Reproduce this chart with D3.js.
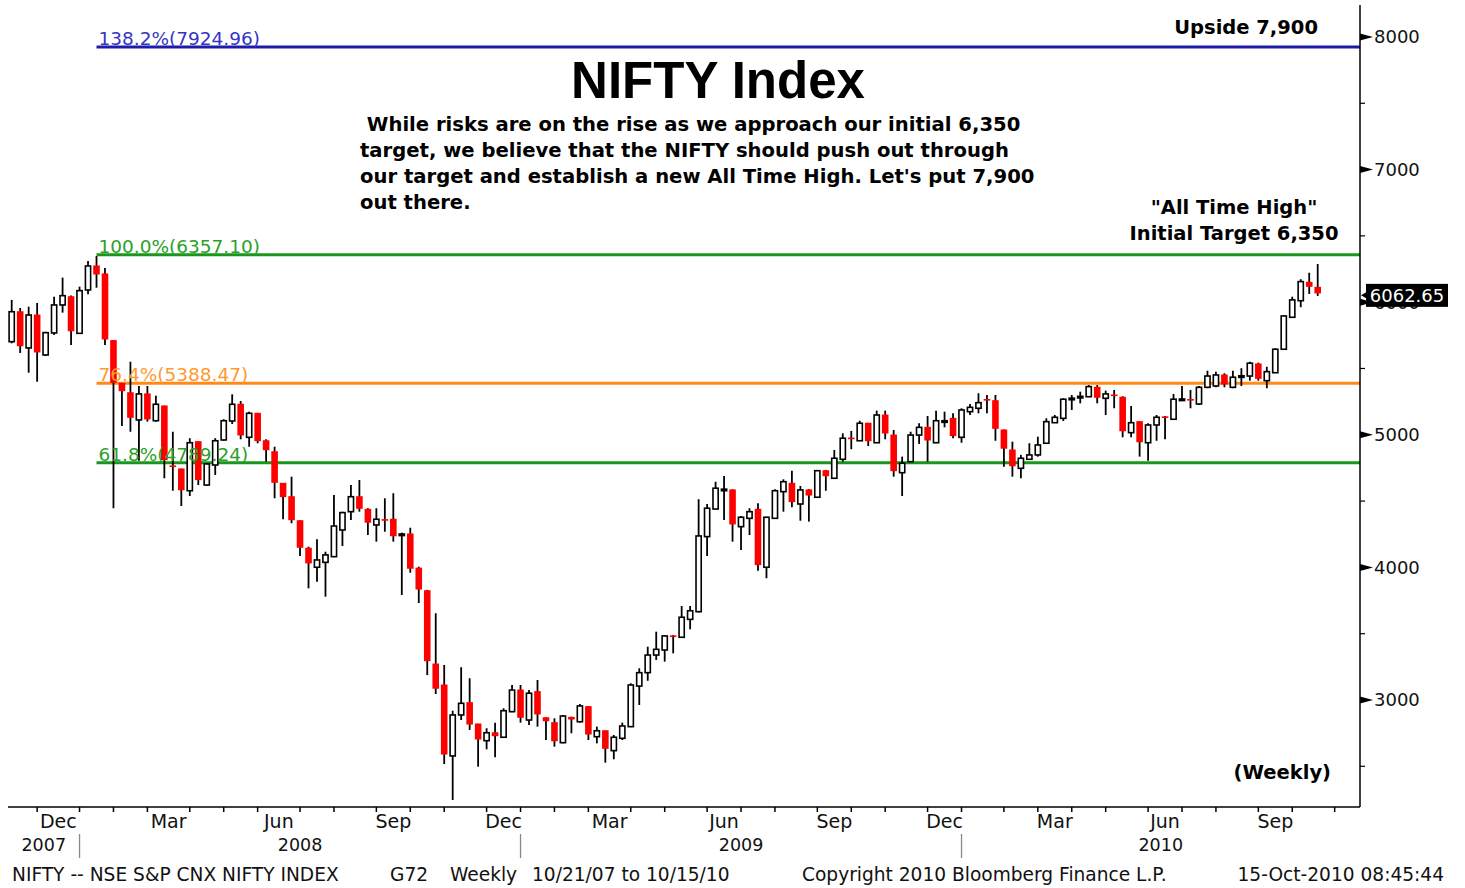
<!DOCTYPE html>
<html>
<head>
<meta charset="utf-8">
<script src="https://cdn.jsdelivr.net/npm/d3@7/dist/d3.min.js"></script>
<style>
  body { margin: 0; background: #fff; }
  svg { display: block; }
</style>
</head>
<body>
<div id="chart"></div>
<script>
// Weekly NIFTY bars, week of 29-Oct-2007 to week of 11-Oct-2010
const firstWeek = new Date(2007, 9, 29);
const lastWeek = new Date(2010, 9, 11);

const opens = [5702,5928,5655,5903,5602,5768,5979,6041,5765,6092,
  6273,6213,5710,5388,5317,5112,5308,5106,5217,4765,
  4742,4578,4948,4621,4772,4961,5104,5230,4981,5162,
  4955,4872,4634,4533,4352,4144,4001,4038,4081,4282,
  4420,4533,4438,4320,4360,4363,4245,4252,3994,3824,
  3271,3113,2578,2887,2980,2819,2693,2753,2719,2912,
  3075,2849,3063,2866,2829,2678,2869,2836,2950,2723,
  2768,2618,2711,2799,3105,3206,3339,3377,3483,3473,
  3608,3666,4232,4440,4580,4584,4307,4370,4438,4001,
  4370,4571,4634,4478,4584,4529,4729,4672,4815,4975,
  4955,5087,4940,5149,4998,4714,4797,4998,5056,4940,
  5100,5124,4981,5174,5200,5266,5257,5036,4885,4747,
  4815,4848,4936,5091,5124,5270,5283,5287,5358,5275,
  5300,5283,5016,5099,4940,5074,5135,5117,5265,5266,
  5232,5358,5368,5451,5358,5440,5443,5534,5408,5468,
  5645,5886,6011,6150,6112];

const highs = [6017,5956,5966,5994,5777,6041,6185,6050,6117,6311,
  6348,6258,5715,5390,5551,5368,5368,5295,5220,5023,
  4745,4974,4950,4785,4974,5117,5305,5255,5174,5165,
  4966,4910,4636,4684,4355,4156,4212,4118,4546,4420,
  4621,4659,4446,4446,4521,4559,4262,4299,4005,3830,
  3654,3264,2919,3247,3164,2820,2787,2829,2937,3113,
  3113,3075,3151,2870,2862,2887,2874,2970,2955,2799,
  2770,2736,2829,3126,3239,3402,3515,3490,3490,3709,
  3709,4514,4478,4646,4689,4589,4388,4446,4483,4382,
  4589,4664,4729,4614,4590,4735,4735,4885,5011,5029,
  5106,5090,5182,5182,5036,4835,5023,5087,5142,5182,
  5174,5162,5200,5232,5313,5300,5300,5040,4948,4848,
  4936,4986,5124,5149,5275,5300,5325,5375,5375,5333,
  5338,5290,5217,5102,5087,5149,5142,5308,5368,5338,
  5368,5483,5476,5464,5483,5502,5551,5544,5513,5652,
  5903,6041,6173,6222,6288];

const lows = [5690,5617,5468,5400,5594,5753,5921,5677,5760,6060,
  6109,5677,4446,5066,5023,4805,5099,5099,4672,4578,
  4463,4538,4621,4615,4697,4955,5081,4966,4910,4936,
  4797,4521,4363,4333,4086,3842,3892,3779,4076,4161,
  4357,4420,4244,4194,4269,4194,3792,3960,3731,3188,
  3045,2517,2246,2849,2774,2497,2628,2568,2715,2907,
  2829,2811,2799,2698,2648,2673,2749,2829,2698,2673,
  2527,2553,2698,2795,2962,3145,3302,3289,3352,3470,
  3533,3660,4086,4440,4357,4194,4131,4244,3975,3918,
  4370,4420,4453,4352,4345,4529,4578,4672,4797,4891,
  4955,4915,4940,4966,4684,4538,4797,4931,4797,4940,
  5056,4974,4940,5149,5162,5162,4955,4759,4684,4672,
  4810,4835,4936,5091,5104,5187,5237,5287,5237,5149,
  5200,4981,4981,4835,4805,4955,4966,5117,5262,5200,
  5225,5351,5358,5358,5351,5368,5408,5408,5351,5468,
  5645,5886,5962,6062,6047];

const closes = [5928,5664,5903,5617,5770,5979,6049,5777,6087,6273,
  6205,5715,5388,5325,5124,5308,5112,5230,4805,4755,
  4578,4940,4654,4780,4955,5106,5230,4991,5162,4948,
  4880,4634,4526,4352,4144,4026,4056,4094,4312,4413,
  4533,4438,4333,4363,4352,4231,4252,3986,3829,3289,
  3081,2585,2887,2975,2811,2698,2753,2723,2919,3075,
  2862,3051,2887,2836,2685,2879,2849,2955,2736,2768,
  2628,2719,2804,3113,3206,3339,3382,3483,3475,3624,
  3673,4237,4446,4597,4590,4320,4378,4420,4013,4378,
  4578,4646,4488,4584,4538,4729,4684,4823,4974,4965,
  5087,4948,5149,5006,4722,4785,4998,5056,4953,5106,
  5106,4986,5187,5207,5242,5258,5041,4891,4759,4823,
  4848,4923,5099,5132,5268,5276,5290,5363,5275,5308,
  5292,5023,5091,4940,5074,5132,5129,5268,5270,5259,
  5358,5443,5451,5375,5434,5445,5540,5418,5476,5645,
  5896,6017,6155,6112,6062.65];

// Fibonacci retracement levels
const fibLevels = [7924.96, 6357.10, 5388.47, 4789.24];
const fibNames = ['138.2%', '100.0%', '76.4%', '61.8%'];
const fibLineColors = ['#1c1caa', '#1a961a', '#ff8a14', '#1a961a'];
const fibTextColors = ['#3535c4', '#2aa02a', '#ff9a30', '#2aa02a'];

const yMajorTicks = [3000, 4000, 5000, 6000, 7000, 8000];
const yMinorTicks = [2500, 3500, 4500, 5500, 6500, 7500];
const lastPrice = 6062.65;
const monthLabels = { 2: 'Mar', 5: 'Jun', 8: 'Sep', 11: 'Dec' };

const noteLines = [
  ' While risks are on the rise as we approach our initial 6,350',
  'target, we believe that the NIFTY should push out through',
  'our target and establish a new All Time High. Let\'s put 7,900',
  'out there.'
];
const footerItems = [
  { text: 'NIFTY -- NSE S&P CNX NIFTY INDEX', x: 12, anchor: 'start' },
  { text: 'G72', x: 390, anchor: 'start' },
  { text: 'Weekly', x: 450, anchor: 'start' },
  { text: '10/21/07 to 10/15/10', x: 532, anchor: 'start' },
  { text: 'Copyright 2010 Bloomberg Finance L.P.', x: 802, anchor: 'start' },
  { text: '15-Oct-2010 08:45:44', x: 1444, anchor: 'end' }
];

const W = 1465, H = 888;
const plotLeft = 8, plotRight = 1360, plotTop = 5, plotBottom = 807;
const axisFont = '"DejaVu Sans", Verdana, sans-serif';
const titleFont = '"Liberation Sans", Arial, sans-serif';
const noteFont = '"DejaVu Sans", Verdana, sans-serif';

const weeks = d3.timeMonday.range(firstWeek, d3.timeDay.offset(lastWeek, 1));
const bars = weeks.map((d, i) => ({
  date: d, open: opens[i], high: highs[i], low: lows[i], close: closes[i]
}));

const x = d3.scaleTime().domain([firstWeek, lastWeek]).range([11.7, 1317.7]);
const y = d3.scaleLinear().domain([2193, 8241]).range([plotBottom, plotTop]);

const svg = d3.select('#chart').append('svg')
  .attr('width', W).attr('height', H)
  .style('background', '#fff');

// Fib lines
const fibStart = x(bars[10].date);
fibLevels.forEach((lvl, i) => {
  svg.append('line')
    .attr('x1', fibStart).attr('x2', plotRight)
    .attr('y1', y(lvl)).attr('y2', y(lvl))
    .attr('stroke', fibLineColors[i]).attr('stroke-width', 3);
});

// Candles
const candles = svg.append('g').selectAll('g').data(bars).enter().append('g');
candles.append('line')
  .attr('x1', d => x(d.date)).attr('x2', d => x(d.date))
  .attr('y1', d => y(d.high)).attr('y2', d => y(d.low))
  .attr('stroke', '#000').attr('stroke-width', 1.8);
candles.append('rect')
  .attr('x', d => x(d.date) - (d.close >= d.open ? 2.6 : 3.3))
  .attr('width', d => d.close >= d.open ? 5.2 : 6.6)
  .attr('y', d => y(Math.max(d.open, d.close)) - (d.close >= d.open ? 0 : 0.5))
  .attr('height', d => Math.max(1.6, Math.abs(y(d.open) - y(d.close))))
  .attr('fill', d => d.close >= d.open ? '#fff' : '#ff0000')
  .attr('stroke', d => d.close >= d.open ? '#000' : 'none')
  .attr('stroke-width', 1.6);

// Fib labels
fibLevels.forEach((lvl, i) => {
  svg.append('text')
    .attr('x', fibStart + 2).attr('y', y(lvl) - 2)
    .attr('font-family', axisFont).attr('font-size', 18.5)
    .attr('fill', fibTextColors[i])
    .text(`${fibNames[i]}(${lvl.toFixed(2)})`);
});

// Right axis
svg.append('line')
  .attr('x1', plotRight).attr('x2', plotRight)
  .attr('y1', plotTop).attr('y2', plotBottom)
  .attr('stroke', '#000').attr('stroke-width', 1.5);
yMinorTicks.forEach(v => {
  svg.append('line')
    .attr('x1', plotRight).attr('x2', plotRight + 5)
    .attr('y1', y(v)).attr('y2', y(v))
    .attr('stroke', '#000').attr('stroke-width', 1.2);
});
yMajorTicks.forEach(v => {
  const ty = y(v);
  svg.append('path')
    .attr('d', `M${plotRight},${ty - 3.5}L${plotRight + 13},${ty}L${plotRight},${ty + 3.5}Z`)
    .attr('fill', '#000');
  svg.append('text')
    .attr('x', plotRight + 14).attr('y', ty)
    .attr('dy', '0.36em')
    .attr('font-family', axisFont).attr('font-size', 18)
    .attr('fill', '#111')
    .text(v);
});

// Last price marker (drawn over the 6000 label, as in the original)
const lpY = y(lastPrice) + 1.5;
svg.append('path')
  .attr('d', `M${plotRight + 1},${lpY}L${plotRight + 8},${lpY - 4}L${plotRight + 8},${lpY + 4}Z`)
  .attr('fill', '#000');
svg.append('rect')
  .attr('x', plotRight + 6).attr('y', lpY - 11.5)
  .attr('width', 82).attr('height', 23)
  .attr('fill', '#000');
svg.append('text')
  .attr('x', plotRight + 47).attr('y', lpY)
  .attr('dy', '0.36em').attr('text-anchor', 'middle')
  .attr('font-family', axisFont).attr('font-size', 18)
  .attr('fill', '#fff')
  .text(lastPrice.toFixed(2));

// Bottom axis
svg.append('line')
  .attr('x1', plotLeft).attr('x2', plotRight)
  .attr('y1', plotBottom).attr('y2', plotBottom)
  .attr('stroke', '#000').attr('stroke-width', 1.5);

// month ticks sit on the bar of the week before the one holding the 1st
const tickX = m => x(d3.timeWeek.offset(d3.timeMonday.floor(m), -1));
const months = d3.timeMonth.range(new Date(2007, 10, 1), new Date(2010, 11, 1));
months.forEach(m => {
  const tx = tickX(m);
  if (tx < plotLeft || tx > plotRight) return;
  svg.append('line')
    .attr('x1', tx).attr('x2', tx)
    .attr('y1', plotBottom).attr('y2', plotBottom + 5)
    .attr('stroke', '#000').attr('stroke-width', 1.5);
  const lbl = monthLabels[m.getMonth()];
  if (lbl) {
    const nx = tickX(d3.timeMonth.offset(m, 1));
    svg.append('text')
      .attr('x', (tx + nx) / 2).attr('y', 828)
      .attr('text-anchor', 'middle')
      .attr('font-family', axisFont).attr('font-size', 19)
      .attr('fill', '#111')
      .text(lbl);
  }
});

// Year separators and labels
const years = [2007, 2008, 2009, 2010];
const sepX = years.slice(1).map(yr => tickX(new Date(yr, 0, 1)));
sepX.forEach(sx => {
  svg.append('line')
    .attr('x1', sx).attr('x2', sx)
    .attr('y1', 834).attr('y2', 858)
    .attr('stroke', '#888').attr('stroke-width', 1.3);
});
const bounds = [plotLeft, ...sepX, plotRight];
years.forEach((yr, i) => {
  svg.append('text')
    .attr('x', (bounds[i] + bounds[i + 1]) / 2).attr('y', 851)
    .attr('text-anchor', 'middle')
    .attr('font-family', axisFont).attr('font-size', 17.5)
    .attr('fill', '#111')
    .text(yr);
});

// Footer
footerItems.forEach(f => {
  svg.append('text')
    .attr('x', f.x).attr('y', 881)
    .attr('text-anchor', f.anchor)
    .attr('font-family', axisFont).attr('font-size', 18.6)
    .attr('fill', '#111')
    .text(f.text);
});

// Title and annotations
svg.append('text')
  .attr('x', 718).attr('y', 98)
  .attr('text-anchor', 'middle')
  .attr('font-family', titleFont).attr('font-weight', 'bold').attr('font-size', 51)
  .attr('fill', '#000')
  .text('NIFTY Index');

svg.append('text')
  .attr('x', 360).attr('y', 131)
  .attr('font-family', noteFont).attr('font-weight', 'bold').attr('font-size', 19.6)
  .attr('fill', '#000')
  .attr('xml:space', 'preserve')
  .selectAll('tspan').data(noteLines).enter().append('tspan')
  .attr('x', 360).attr('dy', (d, i) => i === 0 ? 0 : 26)
  .text(d => d);

svg.append('text')
  .attr('x', 1318).attr('y', 34)
  .attr('text-anchor', 'end')
  .attr('font-family', noteFont).attr('font-weight', 'bold').attr('font-size', 19.5)
  .text('Upside 7,900');

svg.append('text')
  .attr('x', 1234).attr('y', 214)
  .attr('text-anchor', 'middle')
  .attr('font-family', noteFont).attr('font-weight', 'bold').attr('font-size', 19.5)
  .text('"All Time High"');
svg.append('text')
  .attr('x', 1234).attr('y', 240)
  .attr('text-anchor', 'middle')
  .attr('font-family', noteFont).attr('font-weight', 'bold').attr('font-size', 19.5)
  .text('Initial Target 6,350');

svg.append('text')
  .attr('x', 1331).attr('y', 779)
  .attr('text-anchor', 'end')
  .attr('font-family', noteFont).attr('font-weight', 'bold').attr('font-size', 19.5)
  .text('(Weekly)');
</script>
</body>
</html>
